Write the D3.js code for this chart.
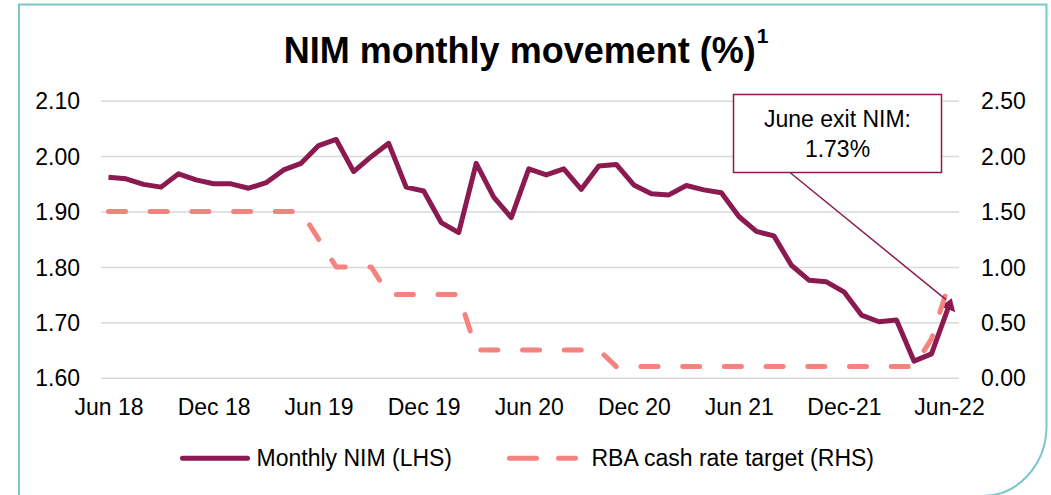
<!DOCTYPE html>
<html><head><meta charset="utf-8">
<script src="https://cdn.jsdelivr.net/npm/d3@7"></script>
<style>
html,body{margin:0;padding:0;background:#fff;}
svg{display:block;font-family:"Liberation Sans",Arial,sans-serif;}
</style></head><body>
<svg id="c" width="1051" height="495"></svg>
<script>
const months = ["2018-06","2018-07","2018-08","2018-09","2018-10","2018-11","2018-12",
  "2019-01","2019-02","2019-03","2019-04","2019-05","2019-06","2019-07","2019-08","2019-09","2019-10","2019-11","2019-12",
  "2020-01","2020-02","2020-03","2020-04","2020-05","2020-06","2020-07","2020-08","2020-09","2020-10","2020-11","2020-12",
  "2021-01","2021-02","2021-03","2021-04","2021-05","2021-06","2021-07","2021-08","2021-09","2021-10","2021-11","2021-12",
  "2022-01","2022-02","2022-03","2022-04","2022-05","2022-06"];
const nim = [1.962,1.959,1.949,1.944,1.968,1.957,1.950,
  1.950,1.942,1.952,1.975,1.987,2.019,2.030,1.972,1.999,2.023,1.944,1.937,
  1.880,1.862,1.987,1.926,1.889,1.977,1.966,1.977,1.940,1.982,1.985,1.948,
  1.932,1.930,1.947,1.939,1.934,1.891,1.864,1.856,1.803,1.776,1.773,1.755,
  1.713,1.701,1.704,1.630,1.643,1.73];
const rba = [1.50,1.50,1.50,1.50,1.50,1.50,1.50,
  1.50,1.50,1.50,1.50,1.50,1.25,1.00,1.00,1.00,0.75,0.75,0.75,
  0.75,0.75,0.25,0.25,0.25,0.25,0.25,0.25,0.25,0.25,0.10,0.10,
  0.10,0.10,0.10,0.10,0.10,0.10,0.10,0.10,0.10,0.10,0.10,0.10,
  0.10,0.10,0.10,0.10,0.35,0.85];
const tickMonths = ["2018-06","2018-12","2019-06","2019-12","2020-06","2020-12","2021-06","2021-12","2022-06"];
const tickLabels = ["Jun 18","Dec 18","Jun 19","Dec 19","Jun 20","Dec 20","Jun 21","Dec-21","Jun-22"];
const leftTicks = [1.60,1.70,1.80,1.90,2.00,2.10];
const rightTicks = [0,0.50,1.00,1.50,2.00,2.50];
const title = "NIM monthly movement (%)";
const titleNote = "1";
const seriesNames = ["Monthly NIM (LHS)","RBA cash rate target (RHS)"];
const calloutLines = ["June exit NIM:","1.73%"];

const C_NIM = "#8B1A50", C_RBA = "#F4827F", C_GRID = "#D9D9D9", C_FRAME = "#7CC6CD";

const svg = d3.select("#c");
const x = d3.scalePoint().domain(months).range([108.5, 949]);
const yL = d3.scaleLinear().domain([1.6, 2.1]).range([377.7, 100.7]);
const yR = d3.scaleLinear().domain([0, 2.5]).range([377.7, 100.7]);
const plotL = 101, plotR = 959;

// frame
svg.append("path")
  .attr("d","M19,500 V4.5 H1046.5 V426 A64,70 0 0 1 982.5,496 H19")
  .attr("fill","none").attr("stroke",C_FRAME).attr("stroke-width",2);

// title
const t = svg.append("text").attr("x",526).attr("y",63).attr("text-anchor","middle")
  .attr("font-weight","bold").attr("font-size",36).attr("fill","#000");
t.append("tspan").text(title);
t.append("tspan").attr("font-size",21).attr("dy",-20).attr("dx",1).text(titleNote);

// left axis with gridlines
const gL = svg.append("g").attr("transform",`translate(${plotL},0)`)
  .call(d3.axisLeft(yL).tickValues(leftTicks).tickSize(-(plotR-plotL)).tickPadding(21).tickFormat(d3.format(".2f")));
gL.select(".domain").remove();
gL.selectAll("line").attr("stroke",C_GRID).attr("stroke-width",1.5);
gL.selectAll("text").attr("font-size",23).attr("fill","#000").attr("font-family",null).attr("dy","0.36em");

// right axis
const gR = svg.append("g").attr("transform",`translate(${plotR},0)`)
  .call(d3.axisRight(yR).tickValues(rightTicks).tickSize(0).tickPadding(22).tickFormat(d3.format(".2f")));
gR.select(".domain").remove();
gR.selectAll("text").attr("font-size",23).attr("fill","#000").attr("font-family",null).attr("dy","0.36em");

// x axis
const gX = svg.append("g").attr("transform",`translate(0,${yL(1.6)})`)
  .call(d3.axisBottom(x).tickValues(tickMonths).tickSize(0).tickPadding(21).tickFormat((d,i)=>tickLabels[i]));
gX.select(".domain").remove();
gX.selectAll("text").attr("font-size",23).attr("fill","#000").attr("font-family",null).attr("dy","0.71em");

// arrow marker
const defs = svg.append("defs");
defs.append("marker").attr("id","arr").attr("markerUnits","userSpaceOnUse")
  .attr("viewBox","0 -9 12 18").attr("markerWidth",12).attr("markerHeight",18)
  .attr("refX",4).attr("refY",0).attr("orient","auto")
  .append("path").attr("d","M0,-8 L12,0 L0,8 Z").attr("fill",C_NIM);

// NIM line
const lineL = d3.line().x((d,i)=>x(months[i])).y(d=>yL(d));
svg.append("path").datum(nim).attr("d",lineL)
  .attr("fill","none").attr("stroke",C_NIM).attr("stroke-width",5)
  .attr("stroke-linejoin","round").attr("marker-end","url(#arr)");

// RBA line
const lineR = d3.line().x((d,i)=>x(months[i])).y(d=>yR(d));
svg.append("path").datum(rba).attr("d",lineR)
  .attr("fill","none").attr("stroke",C_RBA).attr("stroke-width",5)
  .attr("stroke-linejoin","round").attr("stroke-linecap","round")
  .attr("stroke-dasharray","17,24.7");

// callout
const lastX = x(months[months.length-1]), lastY = yL(nim[nim.length-1]);
svg.append("line").attr("x1",790).attr("y1",172.5).attr("x2",lastX-3).attr("y2",lastY-6)
  .attr("stroke",C_NIM).attr("stroke-width",1.5);
svg.append("rect").attr("x",733.5).attr("y",94.5).attr("width",208).attr("height",78)
  .attr("fill","#fff").attr("stroke",C_NIM).attr("stroke-width",1.5);
svg.append("text").attr("x",837.5).attr("y",126.5).attr("text-anchor","middle")
  .attr("font-size",23).attr("fill","#000").text(calloutLines[0]);
svg.append("text").attr("x",837.5).attr("y",156.5).attr("text-anchor","middle")
  .attr("font-size",23).attr("fill","#000").text(calloutLines[1]);

// legend
const lg = svg.append("g");
lg.append("line").attr("x1",182.5).attr("x2",247.5).attr("y1",458.3).attr("y2",458.3)
  .attr("stroke",C_NIM).attr("stroke-width",5).attr("stroke-linecap","round");
lg.append("text").attr("x",256.5).attr("y",466).attr("font-size",23).attr("fill","#000").text(seriesNames[0]);
lg.append("line").attr("x1",509.5).attr("x2",575.5).attr("y1",458.3).attr("y2",458.3)
  .attr("stroke",C_RBA).attr("stroke-width",5).attr("stroke-linecap","round")
  .attr("stroke-dasharray","27,22");
lg.append("text").attr("x",591.5).attr("y",466).attr("font-size",23).attr("fill","#000").text(seriesNames[1]);
</script>
</body></html>
